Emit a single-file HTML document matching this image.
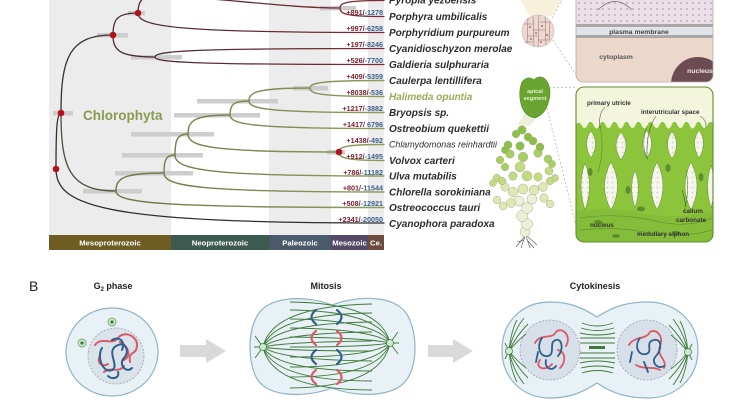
<!DOCTYPE html>
<html><head><meta charset="utf-8"><style>
html,body{margin:0;padding:0;background:#fff;}
svg{display:block;font-family:"Liberation Sans",Arial,sans-serif;}
</style></head><body>
<svg width="750" height="400" viewBox="0 0 750 400" xmlns="http://www.w3.org/2000/svg">
<defs>
<pattern id="dpink" width="6" height="6" patternUnits="userSpaceOnUse"><rect width="6" height="6" fill="#ebe0e7"/><circle cx="3" cy="3" r="1.1" fill="#c7b5c4"/></pattern>
<pattern id="dwhite" width="5" height="5" patternUnits="userSpaceOnUse"><rect width="5" height="5" fill="#f6f6ef"/><circle cx="2.5" cy="2.5" r="0.9" fill="#cfd2c4"/></pattern>
<clipPath id="hbox"><rect x="576" y="87" width="137" height="155" rx="8"/></clipPath>
<clipPath id="rbox"><rect x="576" y="-10" width="137" height="92" rx="7"/></clipPath>
<clipPath id="cyto"><path d="M597 317 C615 305 630 302 648 302 C676 302 698 322 698 350 C698 378 676 398 648 398 C630 398 615 395 597 383 C579 395 565 398 550 398 C522 398 502 378 502 350 C502 322 522 302 550 302 C565 302 579 305 597 317 Z"/></clipPath>
<linearGradient id="redg" gradientUnits="userSpaceOnUse" x1="60" y1="0" x2="384" y2="0"><stop offset="0" stop-color="#3a2f30"/><stop offset="1" stop-color="#7e2a34"/></linearGradient>
<linearGradient id="grg" gradientUnits="userSpaceOnUse" x1="110" y1="0" x2="384" y2="0"><stop offset="0" stop-color="#6e7448"/><stop offset="1" stop-color="#8e9c5c"/></linearGradient>
</defs>
<rect width="750" height="400" fill="#fff"/>

<!-- geological background -->
<rect x="49" y="0" width="122" height="235" fill="#ececec"/>
<rect x="269" y="0" width="62" height="235" fill="#ececec"/>
<rect x="368" y="0" width="16" height="235" fill="#ececec"/>
<rect x="49" y="235" width="122" height="15" fill="#6e5c22"/>
<rect x="171" y="235" width="98" height="15" fill="#3c5a50"/>
<rect x="269" y="235" width="62" height="15" fill="#4b5a6b"/>
<rect x="331" y="235" width="37" height="15" fill="#554a66"/>
<rect x="368" y="235" width="16" height="15" fill="#6e4b3e"/>
<g fill="#fff" font-size="7.7" font-weight="bold" text-anchor="middle">
<text x="110" y="245.5">Mesoproterozoic</text>
<text x="220" y="245.5">Neoproterozoic</text>
<text x="300" y="245.5">Paleozoic</text>
<text x="349.5" y="245.5">Mesozoic</text>
<text x="376" y="245.5">Ce.</text>
</g>

<!-- confidence bars -->
<g fill="#cdcdcd">
<rect x="53" y="111" width="20" height="4.5"/>
<rect x="97" y="33" width="31" height="4.5"/>
<rect x="128" y="11" width="17" height="4.5"/>
<rect x="320" y="6" width="36" height="4.5"/>
<rect x="131" y="55" width="51" height="4.5"/>
<rect x="83" y="189" width="59" height="4.5"/>
<rect x="115" y="171" width="78" height="4.5"/>
<rect x="122" y="153" width="81" height="4.5"/>
<rect x="131" y="132" width="83" height="4.5"/>
<rect x="174" y="113" width="86" height="4.5"/>
<rect x="197" y="99" width="81" height="4.5"/>
<rect x="293" y="86" width="35" height="4.5"/>
<rect x="327" y="150" width="18" height="4.5"/>
</g>

<text x="83" y="120" font-size="13.5" font-weight="bold" fill="#8a9a50">Chlorophyta</text>

<!-- tree -->
<g fill="none" stroke-width="1.3" stroke-linecap="round">
<path stroke="#2e2e2e" d="M56 169 C56 206.8 105.2 223 384 223"/>
<path stroke="#353030" d="M56 169 C56 129.8 56.75 113 61 113"/>
<path stroke="#3a3030" d="M61 113 C61 58.4 68.8 35 113 35"/>
<path stroke="#4e5038" d="M61 113 C61 167.6 69.25 191 116 191"/>
<g stroke="url(#redg)">
<path d="M113 35 C113 19.6 116.75 13 138 13"/>
<path d="M113 35 C113 50.4 119.3 57 155 57"/>
<path d="M138 13 C138 -8 150 -6 200 -2 S300 8 340 8"/>
<path d="M138 13 C138 26.7 174.9 32.5 384 32.5"/>
<path d="M340 8 C340 2.75 346.6 0.5 384 0.5"/>
<path d="M340 8 C340 13.95 346.6 16.5 384 16.5"/>
<path d="M155 57 C155 51.05 189.35 48.5 384 48.5"/>
<path d="M155 57 C155 62.25 189.35 64.5 384 64.5"/>
</g>
<g stroke="url(#grg)" stroke-width="1.4">
<path d="M116 191 C116 202.55 156.2 207.5 384 207.5"/>
<path d="M116 191 C116 178.4 123.2 173 164 173"/>
<path d="M164 173 C164 186.3 197 192 384 192"/>
<path d="M164 173 C164 160.4 165.65 155 175 155"/>
<path d="M175 155 C175 169.7 206.35 176 384 176"/>
<path d="M175 155 C175 140.3 176.95 134 188 134"/>
<path d="M188 134 C188 146.6 210.65 152 339 152"/>
<path d="M188 134 C188 120.7 194.3 115 230 115"/>
<path d="M339 152 C339 146.75 345.75 144.5 384 144.5"/>
<path d="M339 152 C339 157.95 345.75 160.5 384 160.5"/>
<path d="M230 115 C230 124.45 253.1 128.5 384 128.5"/>
<path d="M230 115 C230 105.2 232.85 101 249 101"/>
<path d="M249 101 C249 109.05 269.25 112.5 384 112.5"/>
<path d="M249 101 C249 91.9 258.15 88 310 88"/>
<path d="M310 88 C310 82.75 321.1 80.5 384 80.5"/>
<path d="M310 88 C310 93.95 321.1 96.5 384 96.5"/>
</g>
</g>
<g fill="#b3111b">
<circle cx="56" cy="169" r="3.3"/><circle cx="61" cy="113" r="3.3"/>
<circle cx="113" cy="35" r="3.3"/><circle cx="138" cy="13" r="3.3"/>
<circle cx="339" cy="152" r="3.3"/>
</g>

<!-- numbers -->
<g font-size="7.2" font-weight="bold" text-anchor="end">
<text x="383" y="15"><tspan fill="#7a1c2e">+891/</tspan><tspan fill="#3d5f8f">-1278</tspan></text>
<text x="383" y="31"><tspan fill="#7a1c2e">+997/</tspan><tspan fill="#3d5f8f">-6258</tspan></text>
<text x="383" y="47"><tspan fill="#7a1c2e">+197/</tspan><tspan fill="#3d5f8f">-8246</tspan></text>
<text x="383" y="63"><tspan fill="#7a1c2e">+526/</tspan><tspan fill="#3d5f8f">-7700</tspan></text>
<text x="383" y="79"><tspan fill="#7a1c2e">+409/</tspan><tspan fill="#3d5f8f">-5359</tspan></text>
<text x="383" y="95"><tspan fill="#7a1c2e">+8038/</tspan><tspan fill="#3d5f8f">-536</tspan></text>
<text x="383" y="111"><tspan fill="#7a1c2e">+1217/</tspan><tspan fill="#3d5f8f">-3882</tspan></text>
<text x="383" y="127"><tspan fill="#7a1c2e">+1417/</tspan><tspan fill="#3d5f8f"> 6796</tspan></text>
<text x="383" y="143"><tspan fill="#7a1c2e">+1438/</tspan><tspan fill="#3d5f8f">-492</tspan></text>
<text x="383" y="159"><tspan fill="#7a1c2e">+912/</tspan><tspan fill="#3d5f8f">-1495</tspan></text>
<text x="383" y="175"><tspan fill="#7a1c2e">+786/</tspan><tspan fill="#3d5f8f">-11182</tspan></text>
<text x="383" y="190.5"><tspan fill="#7a1c2e">+801/</tspan><tspan fill="#3d5f8f">-11544</tspan></text>
<text x="383" y="206"><tspan fill="#7a1c2e">+508/</tspan><tspan fill="#3d5f8f">-12921</tspan></text>
<text x="383" y="222"><tspan fill="#7a1c2e">+2341/</tspan><tspan fill="#3d5f8f">-20050</tspan></text>
</g>

<!-- species -->
<g font-size="10" font-weight="bold" font-style="italic" fill="#2b2b2b">
<text x="389" y="3.5">Pyropia yezoensis</text>
<text x="389" y="20">Porphyra umbilicalis</text>
<text x="389" y="36">Porphyridium purpureum</text>
<text x="389" y="52">Cyanidioschyzon merolae</text>
<text x="389" y="68">Galdieria sulphuraria</text>
<text x="389" y="84">Caulerpa lentillifera</text>
<text x="389" y="100" fill="#9aab55">Halimeda opuntia</text>
<text x="389" y="116">Bryopsis sp.</text>
<text x="389" y="132">Ostreobium quekettii</text>
<text x="389" y="164">Volvox carteri</text>
<text x="389" y="179.5">Ulva mutabilis</text>
<text x="389" y="195.5">Chlorella sorokiniana</text>
<text x="389" y="211">Ostreococcus tauri</text>
<text x="389" y="227">Cyanophora paradoxa</text>
</g>
<text x="389" y="147.5" font-size="9.3" font-style="italic" fill="#2b2b2b" textLength="108" lengthAdjust="spacingAndGlyphs">Chlamydomonas reinhardtii</text>

<!-- rhodophyte cell illustration -->
<polygon points="520,0 562,0 552,16 530,16" fill="#f7f1dc"/>
<g stroke="#aaa" stroke-width="0.7" stroke-dasharray="2 2" fill="none">
<line x1="553" y1="40" x2="577" y2="76"/>
<line x1="552" y1="18" x2="562" y2="0"/>
<line x1="549" y1="88" x2="577" y2="87"/>
<line x1="547" y1="108" x2="577" y2="230"/>
</g>
<circle cx="538" cy="31" r="16" fill="#efd8d0" stroke="#cdb4ac" stroke-width="0.6"/>
<g stroke="#8a6e6a" stroke-width="0.5" fill="none">
<path d="M528 18 L527 44 M533 16 L534 46 M539 15 L538 47 M545 17 L546 45 M550 22 L549 40"/>
<path d="M524 24 L533 24 M533 30 L545 30 M527 36 L538 36 M538 40 L550 40 M540 22 L550 22 M524 42 L533 42"/>
</g>
<g fill="#5a3a3a"><circle cx="530" cy="27" r="0.8"/><circle cx="536" cy="33" r="0.8"/><circle cx="542" cy="26" r="0.8"/><circle cx="547" cy="35" r="0.8"/><circle cx="531" cy="39" r="0.8"/><circle cx="541" cy="42" r="0.8"/></g>

<g clip-path="url(#rbox)">
<rect x="576" y="-10" width="137" height="34" fill="url(#dpink)"/>
<rect x="576" y="24" width="137" height="3" fill="#a9a7a7"/>
<rect x="576" y="27" width="137" height="8" fill="#e1e4e8"/>
<rect x="576" y="35" width="137" height="3" fill="#a9a7a7"/>
<rect x="576" y="38" width="137" height="44" fill="#ecd8cb"/>
<circle cx="698" cy="84" r="27" fill="#6d4b52"/>
</g>
<rect x="576" y="-10" width="137" height="92" rx="7" fill="none" stroke="#b9a9a6" stroke-width="0.8"/>
<path d="M598 10 Q615 -7 632 10" fill="none" stroke="#6a6a6a" stroke-width="0.8"/>
<g font-size="6.8" font-weight="bold" text-anchor="middle">
<text x="639" y="34" fill="#444">plasma membrane</text>
<text x="616" y="59" fill="#555">cytoplasm</text>
<text x="700" y="73" fill="#f4e8ea">nucleus</text>
</g>

<!-- Halimeda box -->
<g clip-path="url(#hbox)">
<rect x="576" y="87" width="137" height="155" fill="#f3f6dc"/>
<path d="M576 242 L576 125 Q579 120 582 126 Q585 131 588 124 Q591 119 594 126 Q597 132 600 124 Q603 119 606 126 Q609 131 612 124 Q615 119 618 126 Q621 132 624 124 Q627 119 630 126 Q633 131 636 124 Q639 119 642 126 Q645 132 648 124 Q651 119 654 126 Q657 131 660 124 Q663 119 666 126 Q669 132 672 124 Q675 119 678 126 Q681 131 684 124 Q687 119 690 126 Q693 132 696 124 Q699 119 702 126 Q705 131 708 124 Q711 119 714 126 L714 242 Z" fill="#8cc43c"/>
<g fill="url(#dwhite)" stroke="#5f8f2c" stroke-width="0.5">
<path d="M591 131 Q600 143 591 158 Q582 143 591 131 Z"/>
<path d="M621 132 Q631 145 621 160 Q611 145 621 132 Z"/>
<path d="M647 130 Q656 143 647 158 Q638 143 647 130 Z"/>
<path d="M672 131 Q681 144 672 159 Q663 144 672 131 Z"/>
<path d="M699 130 Q708 143 699 158 Q690 143 699 130 Z"/>
<path d="M585 163 Q594 185 585 210 Q577 185 585 163 Z"/>
<path d="M611 162 Q624 186 611 210 Q598 186 611 162 Z"/>
<path d="M635 170 Q642 188 635 208 Q628 188 635 170 Z"/>
<path d="M657 162 Q669 186 657 210 Q645 186 657 162 Z"/>
<path d="M691 162 Q703 186 691 210 Q679 186 691 162 Z"/>
<path d="M711 165 Q718 186 711 208 Q704 186 711 165 Z"/>
</g>
<path d="M576 212 Q610 205 645 214 Q680 220 714 210 L714 242 L576 242 Z" fill="#85bd3a"/>
<g fill="none" stroke="#5a8c28" stroke-width="0.6">
<path d="M580 218 Q620 212 660 222 Q690 228 712 218"/>
<path d="M580 230 Q615 226 650 233 Q685 238 712 230"/>
<path d="M600 126 Q605 150 598 172"/><path d="M647 126 Q640 145 648 160"/>
<path d="M686 170 Q690 190 684 212"/>
</g>
<g fill="#5c8f2c">
<ellipse cx="590" cy="172" rx="2.5" ry="4"/><ellipse cx="668" cy="168" rx="2.5" ry="4"/>
<ellipse cx="701" cy="177" rx="2.5" ry="4"/><ellipse cx="641" cy="209" rx="4" ry="2.5"/>
<ellipse cx="598" cy="222" rx="4" ry="2"/><ellipse cx="676" cy="233" rx="4" ry="2"/>
<ellipse cx="616" cy="236" rx="4" ry="2"/><ellipse cx="628" cy="190" rx="2.5" ry="4"/>
</g>
</g>
<rect x="576" y="87" width="137" height="155" rx="8" fill="none" stroke="#5d8c2a" stroke-width="1.1"/>
<g fill="none" stroke="#333" stroke-width="0.5">
<path d="M605 107 Q598 113 600 128"/><path d="M656 116 Q646 130 647 158"/><path d="M700 116 Q707 120 706 128"/>
<path d="M686 206 Q684 196 682 190"/>
</g>
<g font-size="6.3" font-weight="bold" fill="#333">
<text x="587" y="105">primary utricle</text>
<text x="641" y="114">interutricular space</text>
<text x="590" y="227">nucleus</text>
<text x="683" y="213">calium</text>
<text x="676" y="222">carbonate</text>
<text x="637" y="236">medullary siphon</text>
</g>

<!-- apical segment & plant -->
<polygon points="526,112 548,104 530,126 517,125" fill="#eef0dc"/>
<path d="M522 82 Q528 75 534 80 Q540 74 546 80 Q552 88 549 100 Q546 114 535 118 Q524 116 521 104 Q518 92 522 82 Z" fill="#6aa531" stroke="#4f8a24" stroke-width="0.6"/>
<g font-size="5.6" font-weight="bold" fill="#e3f1c6" text-anchor="middle">
<text x="535" y="93">apical</text><text x="535" y="100">segment</text>
</g>
<g stroke="#555" stroke-width="0.6" fill="none">
<path d="M525 236 L516 247 M525 236 L521 248 M526 236 L530 248 M527 236 L537 245 M524 240 L517 242 M528 241 L534 248"/>
</g>
<g stroke="#a6ad80" stroke-width="0.5">
<g fill="#eeefd9">
<circle cx="525" cy="232" r="5"/><circle cx="527" cy="224" r="5.5"/><circle cx="522" cy="216" r="5.5"/>
<circle cx="527" cy="208" r="5.5"/><circle cx="519" cy="201" r="5"/><circle cx="532" cy="199" r="5"/>
</g>
<g fill="#dfe8b5">
<circle cx="511" cy="203" r="4.5"/><circle cx="503" cy="206" r="4"/><circle cx="497" cy="200" r="3.8"/>
<circle cx="513" cy="192" r="4.8"/><circle cx="523" cy="189" r="5"/><circle cx="534" cy="190" r="4.8"/>
<circle cx="544" cy="198" r="4.2"/><circle cx="550" cy="204" r="3.8"/><circle cx="505" cy="187" r="4.2"/>
<circle cx="543" cy="187" r="4.5"/>
</g>
<g fill="#c3da85">
<circle cx="497" cy="178" r="3.8"/><circle cx="493" cy="183" r="3.4"/><circle cx="502" cy="181" r="3.8"/>
<circle cx="520" cy="167" r="5"/><circle cx="527" cy="176" r="5"/><circle cx="549" cy="171" r="4"/>
<circle cx="555" cy="178" r="3.6"/><circle cx="550" cy="181" r="3.8"/><circle cx="513" cy="176" r="4.2"/>
<circle cx="538" cy="177" r="4.2"/>
</g>
<g fill="#a5cf62">
<circle cx="523" cy="157" r="4.8"/><circle cx="510" cy="154" r="4.2"/><circle cx="500" cy="160" r="3.8"/>
<circle cx="538" cy="153" r="4.2"/><circle cx="548" cy="159" r="4"/><circle cx="552" cy="164" r="3.6"/>
<circle cx="505" cy="167" r="3.8"/>
</g>
<g fill="#8cbf4a">
<circle cx="522" cy="130" r="4.2"/><circle cx="516" cy="134" r="3.8"/><circle cx="528" cy="137" r="4"/>
<circle cx="508" cy="145" r="4"/><circle cx="505" cy="150" r="3.6"/><circle cx="533" cy="141" r="4"/>
<circle cx="540" cy="147" r="4"/><circle cx="520" cy="146" r="4.2"/>
</g>
</g>

<!-- Panel B -->
<text x="29" y="291" font-size="14" fill="#222">B</text>
<g font-size="9" font-weight="bold" fill="#222" text-anchor="middle">
<text x="113" y="289">G<tspan font-size="6" dy="2">2</tspan><tspan dy="-2"> phase</tspan></text>
<text x="326" y="289">Mitosis</text>
<text x="595" y="289">Cytokinesis</text>
</g>

<!-- arrows -->
<polygon points="180,345 206,345 206,339 226,351 206,363 206,357 180,357" fill="#d9d9d9"/>
<polygon points="428,345 453,345 453,339 473,351 453,363 453,357 428,357" fill="#d9d9d9"/>

<!-- G2 cell -->
<ellipse cx="112" cy="352" rx="46" ry="44" fill="#e8f1f5" stroke="#8fb3c6" stroke-width="1.2"/>
<circle cx="116" cy="356" r="28" fill="#dbe3ea" stroke="#9aa4ae" stroke-width="0.8" stroke-dasharray="2 1.5"/>
<g fill="none" stroke-width="2" stroke-linecap="round">
<path stroke="#d9596a" d="M95 345 C102 336 112 346 118 338 C124 330 138 336 137 346 C136 356 128 350 130 362 M104 372 C110 366 118 374 124 366 M120 342 C128 346 132 356 124 360 M100 356 C96 362 102 368 108 364"/>
<path stroke="#2f5f8a" d="M102 348 C96 358 104 374 112 370 C120 366 106 352 116 346 C126 340 130 352 124 358 C118 364 126 374 132 368 M108 376 C112 380 120 378 118 372 M112 340 C118 336 126 340 122 350"/>
</g>
<circle cx="112" cy="322" r="4" fill="#cfe8d0" stroke="#5a9a5a" stroke-width="0.7"/><circle cx="112" cy="322" r="1.6" fill="#3f7a3a"/>
<circle cx="82" cy="343" r="4" fill="#cfe8d0" stroke="#5a9a5a" stroke-width="0.7"/><circle cx="82" cy="343" r="1.6" fill="#3f7a3a"/>

<!-- Mitosis cell -->
<path d="M332 305 C358 295 398 294 409 318 C417 336 417 360 409 376 C398 398 358 398 332 388 C306 398 266 398 256 377 C248 360 248 334 256 318 C266 295 306 295 332 305 Z" fill="#e8f1f5" stroke="#8fb3c6" stroke-width="1.2"/>
<g fill="none" stroke="#3f7a3a" stroke-width="0.9">
<path d="M263 347 Q272 306 372 304"/><path d="M263 347 Q274 314 372 313"/><path d="M263 347 Q276 323 372 322"/>
<path d="M263 347 Q280 333 372 332"/><path d="M263 347 Q285 342 372 341"/><path d="M263 347 Q285 351 372 351"/>
<path d="M263 347 Q280 360 372 361"/><path d="M263 347 Q276 371 372 371"/><path d="M263 347 Q274 381 372 381"/>
<path d="M263 347 Q272 390 372 390"/>
<path d="M390 343 Q381 303 290 302"/><path d="M390 343 Q379 311 290 310"/><path d="M390 343 Q377 320 290 319"/>
<path d="M390 343 Q373 329 290 328"/><path d="M390 343 Q368 338 290 337"/><path d="M390 343 Q368 347 290 347"/>
<path d="M390 343 Q373 357 290 357"/><path d="M390 343 Q377 367 290 367"/><path d="M390 343 Q379 377 290 377"/>
<path d="M390 343 Q381 387 290 388"/>
<path d="M263 347 L255 336 M263 347 L254 347 M263 347 L255 358 M390 343 L398 332 M390 343 L399 343 M390 343 L398 354"/>
</g>
<circle cx="263" cy="347" r="3.5" fill="#cfe8d0" stroke="#3f7a3a" stroke-width="0.7"/>
<circle cx="390" cy="343" r="3.5" fill="#cfe8d0" stroke="#3f7a3a" stroke-width="0.7"/>
<g fill="none" stroke-width="2.2" stroke-linecap="round">
<g stroke="#2f5f8a"><path d="M316 310 Q307 317 316 324"/><path d="M337 310 Q346 317 337 324"/><path d="M316 350 Q307 357 316 364"/><path d="M337 350 Q346 357 337 364"/></g>
<g stroke="#d9596a"><path d="M316 331 Q307 338 316 345"/><path d="M337 331 Q346 338 337 345"/><path d="M316 370 Q307 377 316 384"/><path d="M337 370 Q346 377 337 384"/></g>
</g>

<!-- Cytokinesis cell -->
<path d="M597 317 C615 305 630 302 648 302 C676 302 698 322 698 350 C698 378 676 398 648 398 C630 398 615 395 597 383 C579 395 565 398 550 398 C522 398 502 378 502 350 C502 322 522 302 550 302 C565 302 579 305 597 317 Z" fill="#e8f1f5" stroke="#8fb3c6" stroke-width="1.2"/>
<circle cx="550" cy="350" r="30" fill="#d7e0e8" stroke="#9aa4ae" stroke-width="0.8" stroke-dasharray="2 1.5"/>
<circle cx="647" cy="350" r="30" fill="#d7e0e8" stroke="#9aa4ae" stroke-width="0.8" stroke-dasharray="2 1.5"/>
<g fill="none" stroke="#3f7a3a" stroke-width="0.9" clip-path="url(#cyto)">
<path d="M509 351 Q513 332 524 318"/><path d="M509 351 Q516 336 528 324"/><path d="M509 351 Q517 341 526 334"/><path d="M509 351 Q511 331 517 320"/>
<path d="M509 351 Q513 370 524 384"/><path d="M509 351 Q516 366 528 378"/><path d="M509 351 Q517 361 526 368"/><path d="M509 351 Q511 371 517 382"/>
<path d="M509 351 L505 343 M509 351 L505 359"/>
<path d="M688 352 Q684 333 673 319"/><path d="M688 352 Q681 337 669 325"/><path d="M688 352 Q680 342 671 335"/><path d="M688 352 Q686 332 680 321"/>
<path d="M688 352 Q684 371 673 385"/><path d="M688 352 Q681 367 669 379"/><path d="M688 352 Q680 362 671 369"/><path d="M688 352 Q686 372 680 383"/>
<path d="M688 352 L692 344 M688 352 L692 360"/>
<path d="M582 323 Q597 329 613 323"/><path d="M581 328 Q597 333 614 328"/><path d="M580 333 Q597 337 615 333"/>
<path d="M580 338 L615 338"/><path d="M580 343 L615 343"/><path d="M580 353 L615 353"/><path d="M580 358 L615 358"/>
<path d="M580 363 Q597 359 615 363"/><path d="M581 368 Q597 364 614 368"/><path d="M582 373 Q597 368 613 373"/>
</g>
<rect x="589" y="346" width="16" height="3" fill="#3f7a3a"/>
<circle cx="509" cy="351" r="3.5" fill="#cfe8d0" stroke="#3f7a3a" stroke-width="0.7"/>
<circle cx="688" cy="352" r="3.5" fill="#cfe8d0" stroke="#3f7a3a" stroke-width="0.7"/>
<g fill="none" stroke-width="1.8" stroke-linecap="round">
<path stroke="#d9596a" d="M535 343 C540 333 552 340 556 332 C562 326 572 336 566 346 M540 360 C534 368 546 372 552 364 M558 350 C566 352 566 362 560 368 M629 345 C634 336 646 340 650 332 C656 328 664 336 660 346 C656 356 668 360 664 368 M636 365 C644 370 654 366 660 370"/>
<path stroke="#2f5f8a" d="M542 338 C536 346 540 358 548 356 C556 354 548 342 556 340 C562 338 564 350 558 356 M546 360 C544 368 552 372 556 366 M538 352 L536 362 M640 338 C634 346 638 356 646 354 C654 352 644 342 654 340 C662 338 662 350 656 356 C650 362 658 370 664 366 M632 352 L630 362 M644 362 L648 372"/>
</g>
</svg>
</body></html>
